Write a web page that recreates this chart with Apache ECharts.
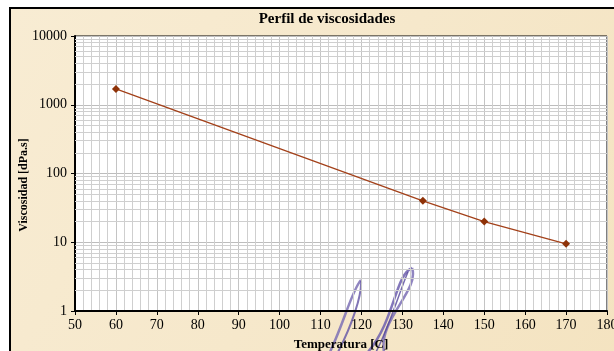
<!DOCTYPE html>
<html><head><meta charset="utf-8">
<script src="https://cdn.jsdelivr.net/npm/echarts@6/dist/echarts.min.js"></script>
<style>html,body{margin:0;padding:0;background:#fff;}#c{width:614px;height:351px;}</style>
</head><body><div id="c"></div>
<script>
const temperatures = [60, 135, 150, 170];
const viscosities = [1700, 40, 20, 9.5];
const xTicks = [50, 180, 10];
const yDecades = [1, 10, 100, 1000, 10000];
const titleText = 'Perfil de viscosidades';
const xTitle = 'Temperatura [C]';
const yTitle = 'Viscosidad [dPa.s]';

const minorY = [];
for (let d = 0; d < yDecades.length - 1; d++) {
  for (let k = 2; k <= 9; k++) minorY.push({ yAxis: yDecades[d] * k });
}

const chart = echarts.init(document.getElementById('c'), null, { renderer: 'canvas' });
const serif = '"Liberation Serif", "Times New Roman", serif';
chart.setOption({
  animation: false,
  backgroundColor: '#fff',
  graphic: [
    { type: 'rect', z: -10, shape: { x: 10, y: 8, width: 620, height: 360 },
      style: { fill: new echarts.graphic.LinearGradient(0, 0, 1, 1, [
        { offset: 0, color: '#f8ecd3' }, { offset: 0.5, color: '#f6e8cb' }, { offset: 1, color: '#f4e3c0' }]),
        stroke: '#000', lineWidth: 2 } },
    { type: 'text', x: 327, y: 12, style: { text: titleText, font: 'bold 15px ' + serif, fill: '#000', align: 'center' }, z: 10 },
    { type: 'text', x: 24, y: 185, rotation: Math.PI / 2, z: 10,
      style: { text: yTitle, font: 'bold 12px ' + serif, fill: '#000', align: 'center', verticalAlign: 'middle' } },
    { type: 'group', z: 100, children: [
      { type: 'bezierCurve', shape: { x1: 330, y1: 352, x2: 361, y2: 280, cpx1: 345, cpy1: 320, cpx2: 352, cpy2: 290 }, style: { stroke: '#7d70b5', lineWidth: 2.5, opacity: 0.85 } },
      { type: 'bezierCurve', shape: { x1: 338, y1: 352, x2: 361, y2: 281, cpx1: 352, cpy1: 325, cpx2: 362, cpy2: 295 }, style: { stroke: '#6a5ca8', lineWidth: 2, opacity: 0.85 } },
      { type: 'bezierCurve', shape: { x1: 368, y1: 352, x2: 412, y2: 268, cpx1: 395, cpy1: 320, cpx2: 395, cpy2: 275 }, style: { stroke: '#6d5fae', lineWidth: 2.5, opacity: 0.85 } },
      { type: 'bezierCurve', shape: { x1: 384, y1: 352, x2: 412, y2: 268, cpx1: 378, cpy1: 320, cpx2: 420, cpy2: 290 }, style: { stroke: '#7d70b5', lineWidth: 2.5, opacity: 0.85 } },
      { type: 'bezierCurve', shape: { x1: 376, y1: 352, x2: 408, y2: 272, cpx1: 390, cpy1: 325, cpx2: 400, cpy2: 290 }, style: { stroke: '#54469a', lineWidth: 1.5, opacity: 0.8 } }
    ] }
  ],
  grid: { left: 75, right: 7, top: 36, bottom: 40, outerBoundsMode: 'none', containLabel: false,
    show: true, backgroundColor: '#fff', borderColor: '#000', borderWidth: 1 },
  xAxis: {
    type: 'value', min: xTicks[0], max: xTicks[1], interval: xTicks[2],
    name: xTitle, nameLocation: 'middle', nameGap: 27,
    nameTextStyle: { fontFamily: serif, fontWeight: 'bold', fontSize: 13, color: '#000' },
    axisLine: { show: true, lineStyle: { color: '#000', width: 2 } },
    axisTick: { show: true, length: 4, lineStyle: { color: '#000' } },
    axisLabel: { fontFamily: serif, fontSize: 14, color: '#000', margin: 7, showMaxLabel: true, hideOverlap: false },
    splitLine: { show: true, lineStyle: { color: '#c4c4c4', width: 1 } },
    minorTick: { show: false, splitNumber: 5 },
    minorSplitLine: { show: true, lineStyle: { color: '#cfcfcf', width: 1 } }
  },
  yAxis: {
    type: 'log', logBase: 10, min: 1, max: 10000,
    axisLine: { show: true, lineStyle: { color: '#000', width: 2 } },
    axisTick: { show: true, length: 4, lineStyle: { color: '#000' } },
    axisLabel: { fontFamily: serif, fontSize: 14, color: '#000', margin: 8, formatter: v => String(v) },
    splitLine: { show: true, lineStyle: { color: '#bdbdbd', width: 1 } }
  },
  series: [
    {
      type: 'line', data: temperatures.map((t, i) => [t, viscosities[i]]),
      symbol: 'diamond', symbolSize: 8,
      lineStyle: { color: '#a3411a', width: 1.3 },
      itemStyle: { color: '#8e3208' }, z: 5,
      markLine: {
        silent: true, symbol: 'none', label: { show: false }, animation: false,
        lineStyle: { color: '#cfcfcf', width: 1, type: 'solid' },
        data: minorY, z: 1
      }
    }
  ]
});
</script></body></html>
